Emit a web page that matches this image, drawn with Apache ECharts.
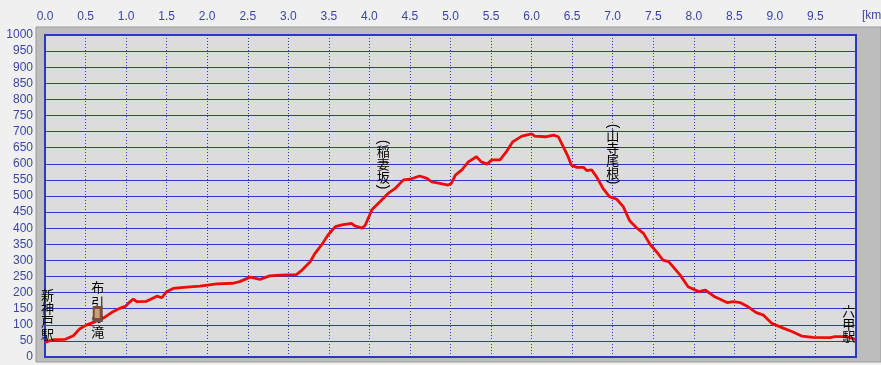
<!DOCTYPE html>
<html><head><meta charset="utf-8">
<script src="https://cdn.jsdelivr.net/npm/echarts@6/dist/echarts.min.js"></script>
<style>html,body{margin:0;padding:0;background:#f0f0f0;}#c{width:881px;height:365px;}</style>
</head><body><div id="c"></div>
<script>
// ---- data ----
const distanceKm = [0.00,0.05,0.12,0.25,0.35,0.43,0.51,0.62,0.72,0.82,0.92,0.99,1.05,1.09,1.13,1.25,1.38,1.44,1.50,1.58,1.71,1.91,2.12,2.32,2.40,2.53,2.65,2.77,2.90,3.10,3.17,3.27,3.33,3.41,3.49,3.58,3.66,3.78,3.82,3.91,3.95,4.03,4.13,4.23,4.32,4.42,4.50,4.62,4.71,4.77,4.87,4.97,5.01,5.06,5.14,5.22,5.32,5.38,5.45,5.51,5.61,5.69,5.77,5.88,6.00,6.04,6.17,6.27,6.33,6.39,6.45,6.49,6.56,6.64,6.68,6.74,6.80,6.88,6.96,7.05,7.13,7.21,7.30,7.38,7.46,7.54,7.62,7.69,7.83,7.93,8.06,8.14,8.26,8.41,8.49,8.57,8.67,8.77,8.86,8.96,9.08,9.21,9.33,9.47,9.68,9.74,9.89,9.99];
const elevationM = [45,50,54,55,66,88,99,110,121,138,151,157,172,180,172,173,189,184,203,213,216,220,227,229,234,248,241,252,254,256,270,296,322,348,379,405,410,415,407,400,410,457,482,508,524,550,552,562,555,544,539,534,539,565,581,606,622,606,599,612,612,638,669,686,693,686,684,689,684,653,622,596,589,589,579,581,560,524,498,490,467,423,400,384,350,327,301,296,255,218,203,208,187,169,172,169,156,138,130,105,92,79,65,61,60,63,63,55];
const xTickLabels = ['0.0','0.5','1.0','1.5','2.0','2.5','3.0','3.5','4.0','4.5','5.0','5.5','6.0','6.5','7.0','7.5','8.0','8.5','9.0','9.5'];
const yTickLabels = ['0','50','100','150','200','250','300','350','400','450','500','550','600','650','700','750','800','850','900','950','1000'];
const unitLabel = '[km]';
const landmarkNames = ['新神戸駅','布引の滝','稲妻坂','山寺尾根','六甲駅'];
const landmarkKm = [0.03,0.65,4.17,7.0,9.91];
const landmarkBracketed = [false,false,true,true,false];

// ---- chart ----
const BLUE = '#2a3ac4';
const LABEL_BLUE = '#3a46a6';
const chart = echarts.init(document.getElementById('c'), null, {renderer:'canvas'});
chart.setOption({
  backgroundColor: '#f0f0f0',
  animation: false,
  grid: {left:45, right:25, top:35, bottom:8, show:true, backgroundColor:'#dcdcdc', borderColor:BLUE, borderWidth:2},
  xAxis: {
    type:'value', position:'top', min:0, max:10, interval:0.5, z:3,
    axisLine:{show:false}, axisTick:{show:false},
    axisLabel:{margin:12, color:LABEL_BLUE, fontFamily:'Liberation Sans', fontSize:12,
      formatter: v => { const i = Math.round(v/0.5); return i < xTickLabels.length ? xTickLabels[i] : ''; }},
    splitLine:{show:true, lineStyle:{color:BLUE, width:1, type:[1,2]}}
  },
  yAxis: {
    type:'value', min:0, max:1000, interval:50, z:3,
    axisLine:{show:false}, axisTick:{show:false},
    axisLabel:{margin:12, color:LABEL_BLUE, fontFamily:'Liberation Sans', fontSize:12,
      formatter: v => yTickLabels[Math.round(v/50)]},
    splitLine:{show:true, lineStyle:{color:BLUE, width:1}}
  },
  series: [{
    type:'line', data: distanceKm.map((d,i)=>[d, elevationM[i]]),
    showSymbol:false, symbol:'none', smooth:false,
    lineStyle:{color:'#ee0a0a', width:2.8}, z:5
  }]
});

// ---- decorations & landmark texts ----
const tops = [289, 280, 145, 129, 305];
const lineH = [13, 15, 13, 12.5, 12.5];
const gfx = [
  {type:'rect', z:-10, shape:{x:36, y:27, width:845, height:335}, style:{fill:'#bdbdbd', stroke:'#9a9a9a', lineWidth:1}},
  {type:'text', z:10, x:862, y:16, style:{text:unitLabel, font:'12px "Liberation Sans"', fill:LABEL_BLUE, textAlign:'left', textVerticalAlign:'middle'}}
];
landmarkNames.forEach((name, k) => {
  const px = chart.convertToPixel({gridIndex:0}, [landmarkKm[k], 0])[0];
  const chars = name.split('');
  chars.forEach((ch, j) => {
    gfx.push({type:'text', z:20, x:px, y:tops[k] + lineH[k]*(j+0.5),
      style:{text:ch, font:'13px "Noto Sans CJK JP"', fill:'#000', textAlign:'center', textVerticalAlign:'middle'}});
  });
  if (landmarkBracketed[k]) {
    gfx.push({type:'text', z:20, x:px, y:tops[k]-3, rotation:-Math.PI/2, originX:0, originY:0,
      style:{text:'(', font:'14px "Liberation Sans"', fill:'#000', textAlign:'center', textVerticalAlign:'middle'}});
    gfx.push({type:'text', z:20, x:px, y:tops[k] + lineH[k]*chars.length + 3, rotation:-Math.PI/2, originX:0, originY:0,
      style:{text:')', font:'14px "Liberation Sans"', fill:'#000', textAlign:'center', textVerticalAlign:'middle'}});
  }
  if (k === 1) {
    gfx.push({type:'rect', z:25, shape:{x:px-5, y:306, width:10, height:16}, style:{fill:'#7d4a3c'}});
    gfx.push({type:'rect', z:26, shape:{x:px-3, y:309, width:5, height:9}, style:{fill:'#c9a27a'}});
  }
});
chart.setOption({graphic: gfx});
</script></body></html>
